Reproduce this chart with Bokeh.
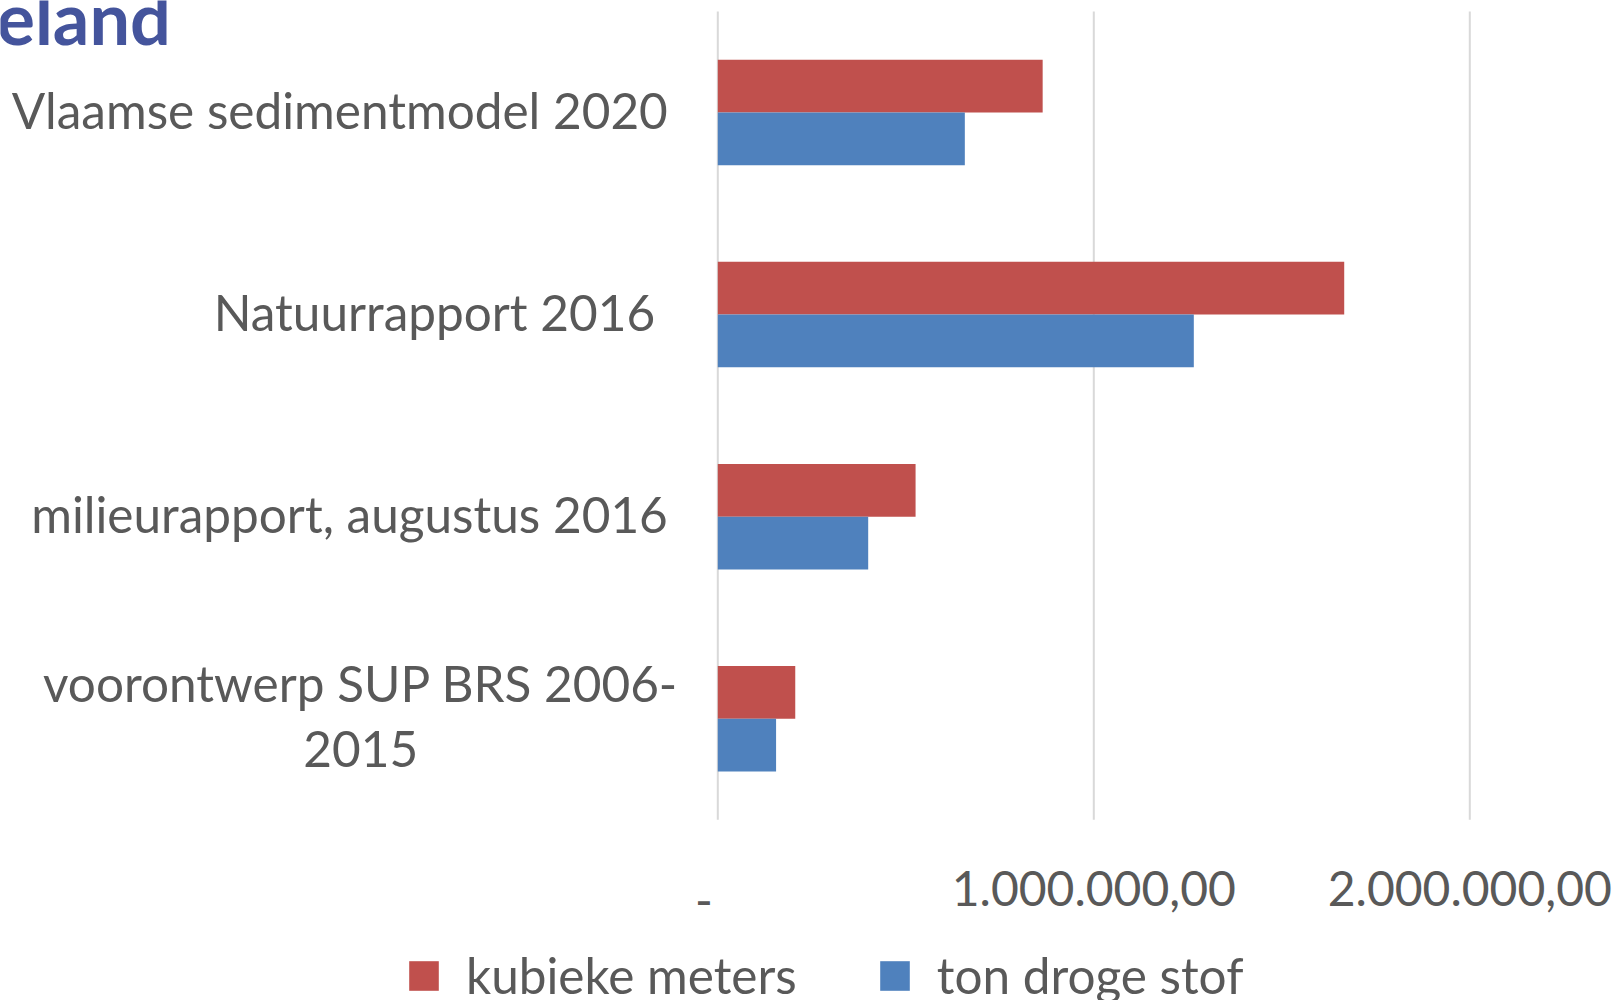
from bokeh.plotting import figure
from bokeh.models import Range1d, Legend, LegendItem, Label, ColumnDataSource
from bokeh.core.properties import value
from bokeh.embed import file_html
from bokeh.resources import INLINE

# ---- data ----
categories = ["Vlaamse sedimentmodel 2020", "Natuurrapport 2016 ",
              "milieurapport, augustus 2016", "voorontwerp SUP BRS 2006-\n2015"]
kubieke_meters = [864000, 1666000, 526000, 206000]
ton_droge_stof = [657000, 1266000, 400000, 155000]
series_names = ["kubieke meters", "ton droge stof"]
tick_values = [0, 1000000, 2000000]
tick_labels = ["-\u2007", "1.000.000,00", "2.000.000,00"]
title_text = "eland"

FONT = "Lato"
GRAY = "#595959"
RED = "#C0504D"
BLUE = "#4F81BD"

# ---- layout (pixels of the 1616x1000 page) ----
W, H = 1616, 1000
zero_px = 717.3          # x pixel of value 0
px_per_unit = 376.0 / 1e6
band_px = 202.1          # height of one category band
first_center_px = 112.0  # y pixel of the first category centre

n = len(categories)
pos = list(range(n))     # category slot, 0 = top

x_range = Range1d(start=-zero_px / px_per_unit, end=(W - zero_px) / px_per_unit)
# reversed numeric range: slot 0 at the top
y_range = Range1d(start=(H - first_center_px) / band_px, end=-first_center_px / band_px)

p = figure(width=W, height=H, x_range=x_range, y_range=y_range,
           output_backend="svg", toolbar_location=None,
           x_axis_location=None, y_axis_location=None,
           min_border_left=0, min_border_right=0, min_border_top=0, min_border_bottom=0)
p.min_border = 0
p.outline_line_color = None
p.background_fill_color = "white"
p.border_fill_color = "white"
p.grid.visible = False

# vertical gridlines at the tick values, spanning the category bands
p.segment(x0=tick_values, x1=tick_values,
          y0=[-0.5] * len(tick_values), y1=[n - 0.5] * len(tick_values),
          line_color="#D9D9D9", line_width=2)

half = 0.1305
src = ColumnDataSource(dict(
    y_red=[i - half for i in pos], y_blue=[i + half for i in pos],
    km=kubieke_meters, tds=ton_droge_stof))
r1 = p.hbar(y="y_red", right="km", left=0, height=2 * half, source=src,
            fill_color=RED, line_color=None)
r2 = p.hbar(y="y_blue", right="tds", left=0, height=2 * half, source=src,
            fill_color=BLUE, line_color=None)

# category labels
aligns = ["center" if "\n" in c else "right" for c in categories]
offsets = [-357 if "\n" in c else -50 for c in categories]
lab_src = ColumnDataSource(dict(y=pos, cat=categories, x=[0] * n, align=aligns, off=offsets))
p.text(x="x", y="y", text="cat", source=lab_src, text_align="align", x_offset="off",
       y_offset=-3, text_baseline="middle", text_font=value(FONT), text_font_size="49.5px",
       text_color=GRAY, text_line_height=1.08)

# x tick labels under the plot area
tick_src = ColumnDataSource(dict(x=tick_values, y=[n - 0.5] * len(tick_values), t=tick_labels))
p.text(x="x", y="y", text="t", source=tick_src, text_align="center", text_baseline="top",
       y_offset=51, text_font=value(FONT), text_font_size="48px", text_color=GRAY)

# title fragment (cut at the top-left edge, as in the source)
p.add_layout(Label(x=-4, y=(16 - first_center_px) / band_px, x_units="screen", y_units="data",
                   text=title_text, text_font=FONT, text_font_style="bold",
                   text_font_size="72px", text_color="#44549C", text_baseline="alphabetic"))

legend = Legend(items=[LegendItem(label=series_names[0], renderers=[r1]),
                       LegendItem(label=series_names[1], renderers=[r2])],
                orientation="horizontal", location=(405, -5),
                glyph_width=37, glyph_height=37, label_standoff=24, spacing=79,
                label_text_font=FONT, label_text_font_size="49.5px", label_text_color=GRAY,
                border_line_color=None, background_fill_alpha=0, padding=0, margin=0)
p.add_layout(legend, "center")

open("out.html", "w").write(file_html(p, INLINE))
